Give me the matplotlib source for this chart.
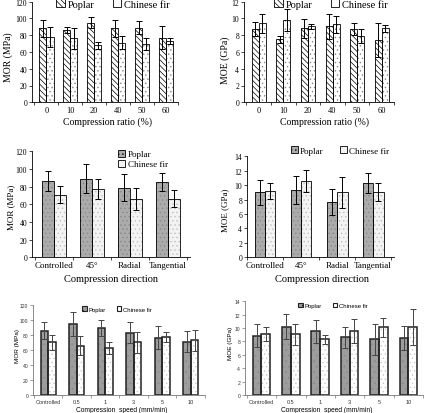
import matplotlib
matplotlib.use("Agg")
import matplotlib.pyplot as plt
from matplotlib.patches import Patch
import numpy as np

W, H = 424, 414
plt.rcParams['hatch.linewidth'] = 0.5

# ---------------- data ----------------
ratio_labels = ["0", "10", "20", "40", "50", "60"]
mor_ratio_poplar = [88, 86, 95, 88, 89, 77]
mor_ratio_poplar_err = [10, 4, 7, 10, 8, 14]
mor_ratio_fir = [78, 76, 68, 71, 69, 73]
mor_ratio_fir_err = [12, 13, 4, 8, 7, 3.5]

moe_ratio_poplar = [8.75, 7.5, 8.8, 9.05, 8.7, 7.45]
moe_ratio_poplar_err = [0.8, 0.45, 1.1, 1.5, 0.7, 2.0]
moe_ratio_fir = [9.4, 9.8, 9.05, 9.3, 7.9, 8.8]
moe_ratio_fir_err = [1.1, 1.3, 0.3, 1.0, 0.85, 0.45]

dir_labels = ["Controlled", "45°", "Radial", "Tangential"]
mor_dir_poplar = [86, 89, 79, 85]
mor_dir_poplar_err = [11.5, 16.5, 15.5, 10]
mor_dir_fir = [71, 77.5, 66, 66.5]
mor_dir_fir_err = [10, 11, 12.5, 10]

moe_dir_poplar = [9.0, 9.35, 7.7, 10.3]
moe_dir_poplar_err = [1.7, 1.9, 1.8, 1.4]
moe_dir_fir = [9.15, 10.55, 9.0, 9.07]
moe_dir_fir_err = [1.1, 1.5, 2.2, 1.2]

speed_labels = ["Controlled", "0.5", "1", "3", "5", "10"]
mor_speed_poplar = [85.5, 94, 89, 83, 76, 71]
mor_speed_poplar_err = [11.5, 16, 10.5, 14, 15.5, 14]
mor_speed_fir = [70, 65.5, 62, 70, 77, 72.5]
mor_speed_fir_err = [10, 13, 8, 14, 6.5, 14]

moe_speed_poplar = [8.85, 10.2, 9.5, 8.6, 8.3, 8.5]
moe_speed_poplar_err = [1.7, 1.85, 1.67, 1.57, 2.34, 1.74]
moe_speed_fir = [9.05, 9.05, 8.3, 9.6, 10.1, 10.1]
moe_speed_fir_err = [1.05, 1.6, 0.7, 1.77, 1.4, 2.7]

series_names = ["Poplar", "Chinese fir"]

fig = plt.figure(figsize=(W / 100, H / 100), dpi=100)


def add_ax(l, r, t, b):
    return fig.add_axes([l / W, 1 - b / H, (r - l) / W, (b - t) / H])


def fx(px):
    return px / W


def fy(py):
    return 1 - py / H


def draw_panel(ax, labels, p, pe, f, pe2, width, xlim, ylim, ystep,
               pstyle, fstyle, font, yt_size, xt_size, lw, ecolor):
    x = np.arange(len(labels))
    for xs, vals, errs, st in ((x - width / 2, p, pe, pstyle), (x + width / 2, f, pe2, fstyle)):
        ax.bar(xs, vals, width, color=st['face'], edgecolor=st['hcolor'],
               hatch=st['hatch'], linewidth=0, zorder=2)
        ax.bar(xs, vals, width, fill=False, edgecolor=st['edge'], linewidth=lw, zorder=3)
        ax.errorbar(xs, vals, yerr=errs, fmt='none', ecolor=ecolor, elinewidth=0.7,
                    capsize=2.2, capthick=0.7, zorder=4)
    ax.set_xlim(*xlim)
    ax.set_ylim(*ylim)
    ax.set_yticks(np.arange(ylim[0], ylim[1] + 0.001, ystep))
    ax.set_xticks(x)
    ax.set_xticklabels(labels, fontfamily=font, fontsize=xt_size)
    ax.set_xticks(np.arange(-0.5, len(labels), 1), minor=True)
    for lab in ax.get_yticklabels():
        lab.set_fontfamily(font)
        lab.set_fontsize(yt_size)
    ax.tick_params(axis='x', which='major', length=0, pad=3)
    ax.tick_params(axis='x', which='minor', length=2, width=0.5, direction='out')
    ax.tick_params(axis='y', length=2, width=0.5, direction='out', pad=1.5)
    for s in ('top', 'right'):
        ax.spines[s].set_visible(False)
    for s in ('left', 'bottom'):
        ax.spines[s].set_linewidth(0.6)
    ax.patch.set_alpha(0)


def legend(ax, pstyle, fstyle, cx, cy, ncol, font, size, lw):
    handles = [Patch(facecolor=pstyle['face'], edgecolor=pstyle['edge'], hatch=pstyle['hatch'], linewidth=lw),
               Patch(facecolor=fstyle['face'], edgecolor=fstyle['edge'], linewidth=lw)]
    ax.legend(handles, series_names, loc='center', bbox_to_anchor=(fx(cx), fy(cy)),
              bbox_transform=fig.transFigure, ncol=ncol, frameon=False,
              prop={'family': font, 'size': size}, handlelength=0.8, handleheight=0.8,
              handletextpad=0.25, columnspacing=1.8, labelspacing=0.15, borderpad=0)


serif = "Liberation Serif"
sans = "Liberation Sans"

s1_p = dict(face='white', hcolor='black', hatch='\\\\\\\\\\\\', edge='black')
s1_f = dict(face='white', hcolor='#888888', hatch='....', edge='black')
s2_p = dict(face='#ababab', hcolor='#8a8a8a', hatch='....', edge='black')
s2_f = dict(face='#f3f3f3', hcolor='#c0c0c0', hatch='....', edge='black')
s3_p = dict(face='#9d9d9d', hcolor='#8a8a8a', hatch='...', edge='#222222')
s3_f = dict(face='white', hcolor='#c8c8c8', hatch='....', edge='#222222')

# Panel 1
ax1 = add_ax(32, 178, 2.5, 103.3)
draw_panel(ax1, ratio_labels, mor_ratio_poplar, mor_ratio_poplar_err, mor_ratio_fir, mor_ratio_fir_err,
           0.30, (-0.60, 5.40), (0, 120), 20, s1_p, s1_f, serif, 5.5, 6, 0.6, 'black')
legend(ax1, s1_p, s1_f, 113, 5, 2, serif, 7.5, 0.6)
fig.text(fx(8), fy(57), "MOR (MPa)", rotation=90, ha='center', va='center', family=serif, fontsize=7)
fig.text(fx(107), fy(122), "Compression ratio (%)", ha='center', va='center', family=serif, fontsize=7)

# Panel 2
ax2 = add_ax(244, 394, 2.5, 103.3)
draw_panel(ax2, ratio_labels, moe_ratio_poplar, moe_ratio_poplar_err, moe_ratio_fir, moe_ratio_fir_err,
           0.285, (-0.60, 5.23), (0, 12), 2, s1_p, s1_f, serif, 5.5, 6, 0.6, 'black')
legend(ax2, s1_p, s1_f, 331, 5, 2, serif, 7.5, 0.6)
fig.text(fx(225), fy(60), "MOE (GPa)", rotation=90, ha='center', va='center', family=serif, fontsize=7)
fig.text(fx(324), fy(122), "Compression ratio (%)", ha='center', va='center', family=serif, fontsize=7)

# Panel 3
ax3 = add_ax(32, 190, 152.3, 258.3)
draw_panel(ax3, dir_labels, mor_dir_poplar, mor_dir_poplar_err, mor_dir_fir, mor_dir_fir_err,
           0.31, (-0.58, 3.58), (0, 120), 20, s2_p, s2_f, serif, 5.5, 6.5, 0.6, 'black')
legend(ax3, s2_p, s2_f, 143, 160, 1, serif, 6.5, 0.6)
fig.text(fx(11), fy(207), "MOR (MPa)", rotation=90, ha='center', va='center', family=serif, fontsize=6.5)
fig.text(fx(111), fy(279), "Compression direction", ha='center', va='center', family=serif, fontsize=7.5)

# Panel 4
ax4 = add_ax(247, 394, 157.3, 258.3)
draw_panel(ax4, dir_labels, moe_dir_poplar, moe_dir_poplar_err, moe_dir_fir, moe_dir_fir_err,
           0.29, (-0.47, 3.58), (0, 14), 2, s2_p, s2_f, serif, 5.5, 6.5, 0.6, 'black')
legend(ax4, s2_p, s2_f, 340, 151.5, 2, serif, 6.5, 0.6)
fig.text(fx(225), fy(210), "MOE (GPa)", rotation=90, ha='center', va='center', family=serif, fontsize=6.5)
fig.text(fx(322), fy(279), "Compression direction", ha='center', va='center', family=serif, fontsize=7.5)

# Panel 5
ax5 = add_ax(33, 205, 305.7, 396)
draw_panel(ax5, speed_labels, mor_speed_poplar, mor_speed_poplar_err, mor_speed_fir, mor_speed_fir_err,
           0.265, (-0.53, 5.41), (0, 120), 20, s3_p, s3_f, sans, 3.6, 4.0, 1.1, '#444444')
legend(ax5, s3_p, s3_f, 117, 310, 2, sans, 4.3, 0.8)
fig.text(fx(17), fy(346), "MOR (MPa)", rotation=90, ha='center', va='center', family=sans, fontsize=4.6)
fig.text(fx(122), fy(411), "Compression  speed (mm/min)", ha='center', va='center', family=sans, fontsize=4.8)

# Panel 6
ax6 = add_ax(245, 423, 302.3, 396)
draw_panel(ax6, speed_labels, moe_speed_poplar, moe_speed_poplar_err, moe_speed_fir, moe_speed_fir_err,
           0.30, (-0.56, 5.45), (0, 14), 2, s3_p, s3_f, sans, 3.6, 4.0, 1.1, '#444444')
legend(ax6, s3_p, s3_f, 333, 306.5, 2, sans, 4.3, 0.8)
fig.text(fx(230), fy(343), "MOE (GPa)", rotation=90, ha='center', va='center', family=sans, fontsize=4.6)
fig.text(fx(327), fy(411), "Compression  speed (mm/min)", ha='center', va='center', family=sans, fontsize=4.8)

for ax in (ax5, ax6):
    for s in ('left', 'bottom'):
        ax.spines[s].set_color('#777777')
    ax.tick_params(colors='#777777', labelcolor='#333333', which='both')

fig.savefig("out.png", dpi=100)
